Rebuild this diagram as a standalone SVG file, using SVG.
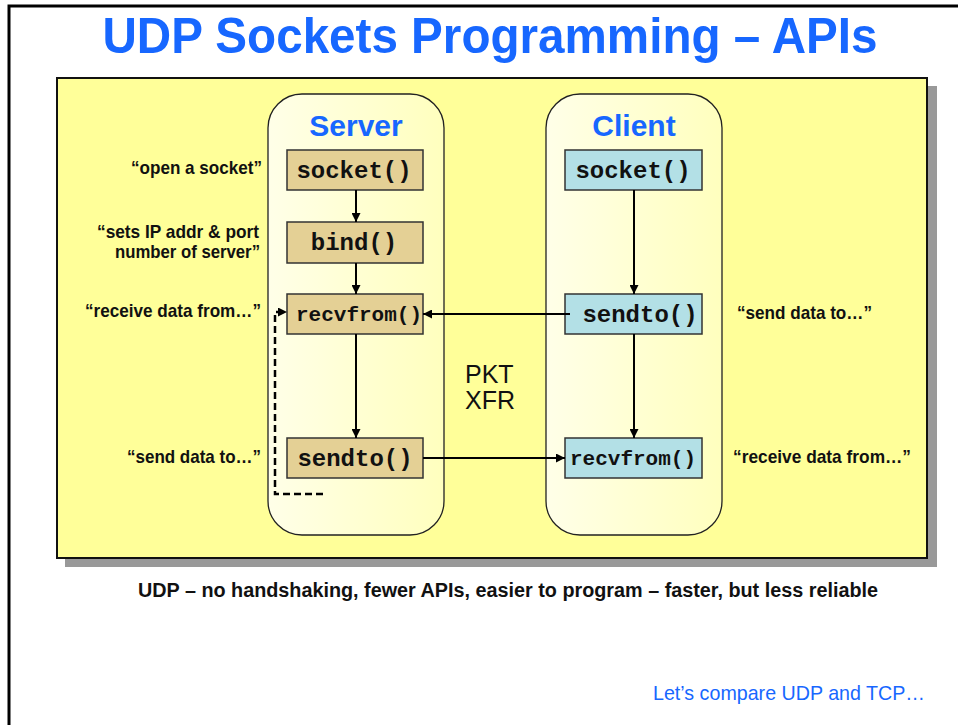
<svg xmlns="http://www.w3.org/2000/svg" width="958" height="725" viewBox="0 0 958 725">
<defs>
<linearGradient id="colg" x1="0" y1="0" x2="1" y2="0">
<stop offset="0" stop-color="#FFFFE8"/>
<stop offset="1" stop-color="#FFFFBE"/>
</linearGradient>
<marker id="ah" viewBox="0 0 10 10" refX="10" refY="5" markerWidth="9" markerHeight="9" markerUnits="userSpaceOnUse" orient="auto">
<path d="M0,0 L10,5 L0,10 z" fill="#000"/>
</marker>
<style>
.title{font-family:"Liberation Sans",Arial,sans-serif;font-weight:bold;fill:#1767FF}
.col{fill:url(#colg);stroke:#222;stroke-width:1.3}
.sbox{fill:#E4D095;stroke:#333;stroke-width:1.5}
.cbox{fill:#B3E0E6;stroke:#333;stroke-width:1.5}
.code{font-family:"Liberation Mono","Courier New",monospace;font-weight:bold;font-size:24px;fill:#111;text-anchor:middle}
.code.sm{font-size:21px}
.ann{font-family:"Liberation Sans",Arial,sans-serif;font-weight:bold;font-size:18.5px;fill:#111}
.conn{stroke:#000;stroke-width:2;fill:none}
.dash{stroke:#000;stroke-width:2.5;fill:none;stroke-dasharray:7,4}
</style>
</defs>
<rect x="0" y="0" width="958" height="725" fill="#fff"/>
<rect x="9" y="6" width="960" height="730" fill="none" stroke="#000" stroke-width="3"/>
<text class="title" x="490" y="53" font-size="50" text-anchor="middle" textLength="775" lengthAdjust="spacingAndGlyphs">UDP Sockets Programming – APIs</text>
<g id="panel">
<rect x="65" y="86" width="872" height="481" fill="#999"/>
<rect x="57" y="78" width="870" height="480" fill="#FFFF99" stroke="#111" stroke-width="2"/>
</g>
<g id="server-col">
<rect class="col" x="268" y="94" width="176" height="441" rx="34" ry="34"/>
<text class="title" x="356" y="136" font-size="30" text-anchor="middle">Server</text>
</g>
<g id="client-col">
<rect class="col" x="546" y="94" width="176" height="441" rx="34" ry="34"/>
<text class="title" x="634" y="136" font-size="30" text-anchor="middle">Client</text>
</g>
<g id="s-socket"><rect class="sbox" x="287" y="150" width="136" height="40"/><text class="code" x="354" y="178">socket()</text></g>
<g id="s-bind"><rect class="sbox" x="287" y="222" width="136" height="41"/><text class="code" x="354" y="250">bind()</text></g>
<g id="s-recvfrom"><rect class="sbox" x="287" y="294" width="136" height="40"/><text class="code sm" x="359" y="321">recvfrom()</text></g>
<g id="s-sendto"><rect class="sbox" x="287" y="438" width="136" height="40"/><text class="code" x="355" y="466">sendto()</text></g>
<g id="c-socket"><rect class="cbox" x="565" y="150" width="137" height="40"/><text class="code" x="633" y="178">socket()</text></g>
<g id="c-sendto"><rect class="cbox" x="565" y="294" width="137" height="40"/><text class="code" x="640" y="322">sendto()</text></g>
<g id="c-recvfrom"><rect class="cbox" x="565" y="438" width="137" height="40"/><text class="code sm" x="633" y="465">recvfrom()</text></g>
<g id="annotations">
<text class="ann" x="262" y="174" text-anchor="end" textLength="131" lengthAdjust="spacingAndGlyphs">“open a socket”</text>
<text class="ann" x="259" y="238" text-anchor="end" textLength="162" lengthAdjust="spacingAndGlyphs">“sets IP addr &amp; port</text>
<text class="ann" x="260" y="258" text-anchor="end" textLength="145" lengthAdjust="spacingAndGlyphs">number of server”</text>
<text class="ann" x="261" y="317" text-anchor="end" textLength="176" lengthAdjust="spacingAndGlyphs">“receive data from…”</text>
<text class="ann" x="261" y="463" text-anchor="end" textLength="134" lengthAdjust="spacingAndGlyphs">“send data to…”</text>
<text class="ann" x="737" y="319" textLength="135" lengthAdjust="spacingAndGlyphs">“send data to…”</text>
<text class="ann" x="733" y="463" textLength="178" lengthAdjust="spacingAndGlyphs">“receive data from…”</text>
</g>
<g id="pkt-xfr">
<text x="465" y="383" font-family="Liberation Sans,Arial,sans-serif" font-size="25" fill="#111">PKT</text>
<text x="465" y="409" font-family="Liberation Sans,Arial,sans-serif" font-size="25" fill="#111">XFR</text>
</g>
<g id="connectors">
<line class="conn" x1="356" y1="190" x2="356" y2="222" marker-end="url(#ah)"/>
<line class="conn" x1="356" y1="263" x2="356" y2="294" marker-end="url(#ah)"/>
<line class="conn" x1="356" y1="334" x2="356" y2="438" marker-end="url(#ah)"/>
<line class="conn" x1="634" y1="190" x2="634" y2="294" marker-end="url(#ah)"/>
<line class="conn" x1="634" y1="334" x2="634" y2="438" marker-end="url(#ah)"/>
<line class="conn" x1="570" y1="314" x2="423" y2="314" marker-end="url(#ah)"/>
<line class="conn" x1="423" y1="458" x2="565" y2="458" marker-end="url(#ah)"/>
<path class="dash" d="M323,494 H275 V312 H287" marker-end="url(#ah)"/>
</g>
<text x="508" y="597" font-family="Liberation Sans,Arial,sans-serif" font-weight="bold" font-size="20" fill="#111" text-anchor="middle" textLength="740" lengthAdjust="spacingAndGlyphs">UDP – no handshaking, fewer APIs, easier to program – faster, but less reliable</text>
<text x="653" y="700" font-family="Liberation Sans,Arial,sans-serif" font-size="21" fill="#1767FF" textLength="272" lengthAdjust="spacingAndGlyphs">Let’s compare UDP and TCP…</text>
</svg>
